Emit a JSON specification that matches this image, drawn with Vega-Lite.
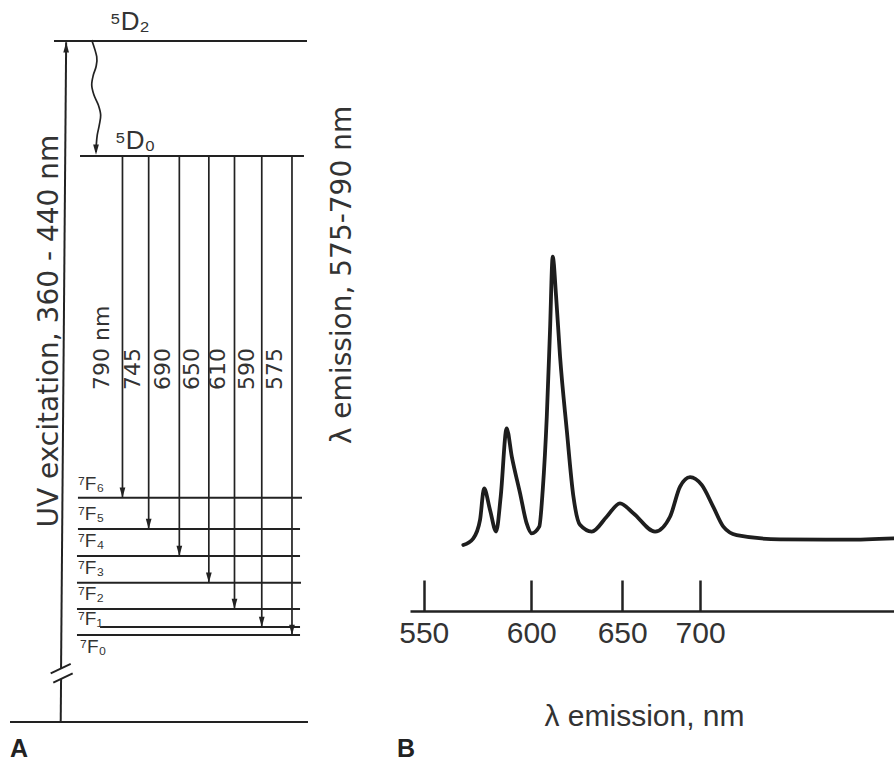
{
  "$schema": "https://vega.github.io/schema/vega-lite/v6.json",
  "width": 894,
  "height": 761,
  "padding": 0,
  "autosize": {"type": "none"},
  "background": "white",
  "config": {"view": {"stroke": null}, "font": "Liberation Sans"},
  "datasets": {
    "segments": [
      {"part": "5D2", "x": 6.04, "x2": 34.34, "y": 100, "y2": 100},
      {"part": "5D0", "x": 8.95, "x2": 34.0, "y": 83.11, "y2": 83.11},
      {"part": "7F6", "x": 8.72, "x2": 33.78, "y": 32.94, "y2": 32.94},
      {"part": "7F5", "x": 8.72, "x2": 33.56, "y": 28.34, "y2": 28.34},
      {"part": "7F4", "x": 8.61, "x2": 33.56, "y": 24.38, "y2": 24.38},
      {"part": "7F3", "x": 8.61, "x2": 33.67, "y": 20.46, "y2": 20.46},
      {"part": "7F2", "x": 8.61, "x2": 33.56, "y": 16.59, "y2": 16.59},
      {"part": "7F1", "x": 11.19, "x2": 33.56, "y": 13.95, "y2": 13.95},
      {"part": "7F0", "x": 8.61, "x2": 33.56, "y": 12.78, "y2": 12.78},
      {"part": "ground", "x": 1.12, "x2": 34.45, "y": 0, "y2": 0},
      {"part": "UV lower", "x": 6.79, "x2": 6.83, "y": 0, "y2": 6.31},
      {"part": "UV upper", "x": 6.83, "x2": 7.4, "y": 7.86, "y2": 99.8},
      {"part": "break 1", "x": 5.67, "x2": 7.91, "y": 7.15, "y2": 8.52},
      {"part": "break 2", "x": 5.96, "x2": 8.13, "y": 5.77, "y2": 7.15}
    ],
    "transitions": [
      {"nm": "790 nm", "x": 13.70, "y": 83.11, "y2": 32.94, "label_x": 11.38, "label_y": 48.75},
      {"nm": "745", "x": 16.63, "y": 83.11, "y2": 28.34, "label_x": 14.91, "label_y": 48.75},
      {"nm": "690", "x": 20.06, "y": 83.11, "y2": 24.38, "label_x": 18.27, "label_y": 48.75},
      {"nm": "650", "x": 23.36, "y": 83.11, "y2": 20.46, "label_x": 21.44, "label_y": 48.75},
      {"nm": "610", "x": 26.23, "y": 83.11, "y2": 16.59, "label_x": 24.42, "label_y": 48.75},
      {"nm": "590", "x": 29.28, "y": 83.11, "y2": 13.95, "label_x": 27.6, "label_y": 48.75},
      {"nm": "575", "x": 32.66, "y": 83.11, "y2": 12.78, "label_x": 30.76, "label_y": 48.75}
    ],
    "otherHeads": [
      {"what": "UV excitation", "x": 7.4, "y": 99.8, "dir": "up"},
      {"what": "relaxation", "x": 10.74, "y": 83.3, "dir": "down"}
    ],
    "wavy": [
      {"i": 0, "x": 10.26, "y": 100.15},
      {"i": 1, "x": 10.82, "y": 97.69},
      {"i": 2, "x": 10.74, "y": 96.22},
      {"i": 3, "x": 10.44, "y": 95.01},
      {"i": 4, "x": 10.26, "y": 93.54},
      {"i": 5, "x": 10.51, "y": 92.07},
      {"i": 6, "x": 11.0, "y": 90.6},
      {"i": 7, "x": 11.26, "y": 89.13},
      {"i": 8, "x": 11.11, "y": 87.67},
      {"i": 9, "x": 10.88, "y": 86.2},
      {"i": 10, "x": 10.77, "y": 84.73},
      {"i": 11, "x": 10.74, "y": 83.7}
    ],
    "levelLabels": [
      {"text": "⁵D₂", "x": 12.3, "y": 101.6, "group": "D"},
      {"text": "⁵D₀", "x": 12.86, "y": 84.14, "group": "D"},
      {"text": "⁷F₆", "x": 8.72, "y": 34.07, "group": "F"},
      {"text": "⁷F₅", "x": 8.72, "y": 29.66, "group": "F"},
      {"text": "⁷F₄", "x": 8.72, "y": 25.7, "group": "F"},
      {"text": "⁷F₃", "x": 8.72, "y": 21.73, "group": "F"},
      {"text": "⁷F₂", "x": 8.72, "y": 17.91, "group": "F"},
      {"text": "⁷F₁", "x": 8.72, "y": 14.24, "group": "F"},
      {"text": "⁷F₀", "x": 8.95, "y": 10.13, "group": "F"}
    ],
    "notes": [
      {"text": "UV excitation, 360 - 440 nm", "x": 5.63, "y": 57.4},
      {"text": "λ emission, 575-790 nm", "x": 38.37, "y": 65.64}
    ],
    "panels": [
      {"text": "A", "x": 1.12, "y": -5.14},
      {"text": "B", "x": 44.41, "y": -5.14}
    ],
    "spectrum": [
      {"wl": 567.4, "I": 18.4},
      {"wl": 572.0, "I": 20.3},
      {"wl": 575.1, "I": 25.5},
      {"wl": 577.0, "I": 34.4},
      {"wl": 579.8, "I": 28.3},
      {"wl": 582.7, "I": 22.2},
      {"wl": 584.9, "I": 32.1},
      {"wl": 587.8, "I": 51.4},
      {"wl": 590.3, "I": 43.4},
      {"wl": 594.4, "I": 33.0},
      {"wl": 597.7, "I": 24.5},
      {"wl": 600.2, "I": 21.7},
      {"wl": 604.1, "I": 23.6},
      {"wl": 605.9, "I": 34.0},
      {"wl": 608.0, "I": 54.7},
      {"wl": 609.7, "I": 79.3},
      {"wl": 611.1, "I": 100},
      {"wl": 612.9, "I": 88.7},
      {"wl": 615.0, "I": 71.7},
      {"wl": 618.6, "I": 50.9},
      {"wl": 622.2, "I": 32.1},
      {"wl": 625.8, "I": 24.1},
      {"wl": 632.4, "I": 22.2},
      {"wl": 640.9, "I": 26.4},
      {"wl": 648.7, "I": 30.2},
      {"wl": 656.7, "I": 27.4},
      {"wl": 670.2, "I": 22.2},
      {"wl": 679.8, "I": 26.4},
      {"wl": 686.4, "I": 34.9},
      {"wl": 693.1, "I": 37.6},
      {"wl": 701.1, "I": 35.4},
      {"wl": 709.2, "I": 29.2},
      {"wl": 716.4, "I": 23.6},
      {"wl": 726.2, "I": 21.2},
      {"wl": 759.9, "I": 20.0},
      {"wl": 818.3, "I": 19.9},
      {"wl": 865.6, "I": 20.3}
    ]
  },
  "layer": [
    {
      "layer": [
        {
          "data": {"name": "segments"},
          "mark": {"type": "rule", "color": "#222222", "strokeWidth": 2},
          "encoding": {
            "x": {"field": "x", "type": "quantitative", "axis": null, "scale": {"domain": [0, 100], "nice": false, "zero": false}},
            "x2": {"field": "x2"},
            "y": {"field": "y", "type": "quantitative", "axis": null, "scale": {"domain": [-5.73, 106.02], "nice": false, "zero": false}},
            "y2": {"field": "y2"}
          }
        },
        {
          "data": {"name": "transitions"},
          "mark": {"type": "rule", "color": "#222222", "strokeWidth": 1.7},
          "encoding": {
            "x": {"field": "x", "type": "quantitative", "axis": null},
            "y": {"field": "y", "type": "quantitative", "axis": null},
            "y2": {"field": "y2"}
          }
        },
        {
          "data": {"name": "transitions"},
          "mark": {"type": "point", "filled": true, "opacity": 1, "color": "#222222", "strokeWidth": 0, "size": 420, "shape": "M -0.28 -1 L 0.28 -1 L 0 0 Z"},
          "encoding": {
            "x": {"field": "x", "type": "quantitative", "axis": null},
            "y": {"field": "y2", "type": "quantitative", "axis": null}
          }
        },
        {
          "data": {"name": "otherHeads"},
          "mark": {"type": "point", "filled": true, "opacity": 1, "color": "#222222", "strokeWidth": 0, "size": 420},
          "encoding": {
            "x": {"field": "x", "type": "quantitative", "axis": null},
            "y": {"field": "y", "type": "quantitative", "axis": null},
            "shape": {"field": "dir", "type": "nominal", "legend": null, "scale": {"domain": ["down", "up"], "range": ["M -0.28 -1 L 0.28 -1 L 0 0 Z", "M -0.28 1 L 0.28 1 L 0 0 Z"]}}
          }
        },
        {
          "data": {"name": "wavy"},
          "mark": {"type": "line", "color": "#222222", "strokeWidth": 1.7, "interpolate": "cardinal"},
          "encoding": {
            "x": {"field": "x", "type": "quantitative", "axis": null},
            "y": {"field": "y", "type": "quantitative", "axis": null},
            "order": {"field": "i", "type": "quantitative"}
          }
        },
        {
          "data": {"name": "transitions"},
          "mark": {"type": "text", "angle": 270, "align": "left", "baseline": "middle", "font": "DejaVu Sans", "fontSize": 22, "color": "#333333"},
          "encoding": {
            "x": {"field": "label_x", "type": "quantitative", "axis": null},
            "y": {"field": "label_y", "type": "quantitative", "axis": null},
            "text": {"field": "nm"}
          }
        },
        {
          "data": {"name": "levelLabels"},
          "transform": [{"filter": "datum.group === 'D'"}],
          "mark": {"type": "text", "align": "left", "baseline": "alphabetic", "font": "Liberation Sans", "fontSize": 26, "color": "#333333"},
          "encoding": {
            "x": {"field": "x", "type": "quantitative", "axis": null},
            "y": {"field": "y", "type": "quantitative", "axis": null},
            "text": {"field": "text"}
          }
        },
        {
          "data": {"name": "levelLabels"},
          "transform": [{"filter": "datum.group === 'F'"}],
          "mark": {"type": "text", "align": "left", "baseline": "alphabetic", "font": "Liberation Sans", "fontSize": 19, "color": "#333333"},
          "encoding": {
            "x": {"field": "x", "type": "quantitative", "axis": null},
            "y": {"field": "y", "type": "quantitative", "axis": null},
            "text": {"field": "text"}
          }
        },
        {
          "data": {"name": "notes"},
          "mark": {"type": "text", "angle": 270, "align": "center", "baseline": "middle", "font": "DejaVu Sans", "fontSize": 28, "color": "#333333"},
          "encoding": {
            "x": {"field": "x", "type": "quantitative", "axis": null},
            "y": {"field": "y", "type": "quantitative", "axis": null},
            "text": {"field": "text"}
          }
        },
        {
          "data": {"name": "panels"},
          "mark": {"type": "text", "align": "left", "baseline": "alphabetic", "font": "Liberation Sans", "fontSize": 25, "fontWeight": "bold", "color": "#222222"},
          "encoding": {
            "x": {"field": "x", "type": "quantitative", "axis": null},
            "y": {"field": "y", "type": "quantitative", "axis": null},
            "text": {"field": "text"}
          }
        }
      ]
    },
    {
      "layer": [
        {
          "data": {"name": "spectrum"},
          "mark": {"type": "line", "color": "#1e1e1e", "strokeWidth": 3.8, "interpolate": "monotone", "strokeCap": "round", "strokeJoin": "round"},
          "encoding": {
            "x": {
              "field": "wl",
              "type": "quantitative",
              "scale": {"type": "pow", "exponent": -1, "domain": [544.2, 865.6], "range": [410, 894], "nice": false, "zero": false},
              "axis": {
                "orient": "bottom",
                "offset": -150,
                "values": [550, 600, 650, 700],
                "grid": false,
                "domain": true,
                "domainColor": "#222222",
                "domainWidth": 2.5,
                "ticks": true,
                "tickSize": -31,
                "tickWidth": 2.5,
                "tickColor": "#222222",
                "labelFont": "Liberation Sans",
                "labelFontSize": 30,
                "labelColor": "#333333",
                "labelPadding": 38,
                "labelOverlap": false,
                "labelFlush": false,
                "title": "λ emission, nm",
                "titleFont": "Liberation Sans",
                "titleFontSize": 30,
                "titleFontWeight": "normal",
                "titleColor": "#333333",
                "titleX": 644,
                "titleY": 114,
                "titleAlign": "center",
                "titleBaseline": "alphabetic"
              }
            },
            "y": {
              "field": "I",
              "type": "quantitative",
              "scale": {"domain": [-42.74, 172.66], "nice": false, "zero": false},
              "axis": null
            }
          }
        }
      ]
    }
  ],
  "resolve": {"scale": {"x": "independent", "y": "independent"}}
}
